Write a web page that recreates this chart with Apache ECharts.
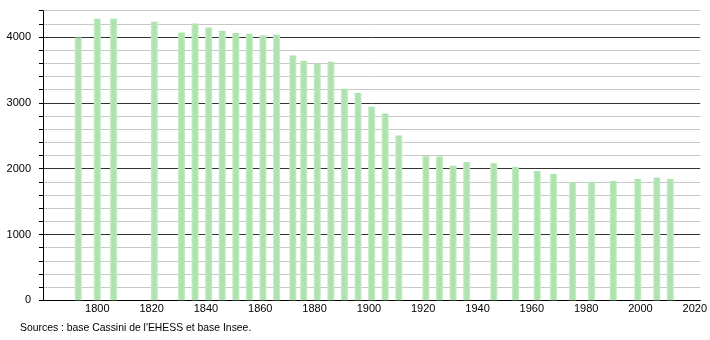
<!DOCTYPE html>
<html>
<head>
<meta charset="utf-8">
<script src="https://cdn.jsdelivr.net/npm/echarts@6/dist/echarts.min.js"></script>
<style>
html,body{margin:0;padding:0;background:#fff;}
#main{width:710px;height:340px;}
</style>
</head>
<body>
<div id="main"></div>
<script>
const years = [1793, 1800, 1806, 1821, 1831, 1836, 1841, 1846, 1851, 1856, 1861, 1866, 1872, 1876, 1881, 1886, 1891, 1896, 1901, 1906, 1911, 1921, 1926, 1931, 1936, 1946, 1954, 1962, 1968, 1975, 1982, 1990, 1999, 2006, 2011];
const population = [3994, 4278, 4276, 4233, 4070, 4207, 4146, 4096, 4063, 4050, 4024, 4035, 3720, 3640, 3599, 3624, 3214, 3153, 2940, 2838, 2503, 2190, 2184, 2043, 2103, 2083, 2027, 1966, 1921, 1794, 1794, 1814, 1845, 1865, 1845];
const yTickLabels = ['0', '1000', '2000', '3000', '4000'];
const xTickLabels = ['1800', '1820', '1840', '1860', '1880', '1900', '1920', '1940', '1960', '1980', '2000', '2020'];
const sourceText = "Sources : base Cassini de l'EHESS et base Insee.";

const chart = echarts.init(document.getElementById('main'), null, {renderer: 'canvas'});
const font = 'Liberation Sans, Arial, sans-serif';
chart.setOption({
  animation: false,
  backgroundColor: '#ffffff',
  grid: {left: 43, right: 9, top: 10.7, bottom: 39.7, containLabel: false},
  graphic: [{
    type: 'text', left: 20, top: 323,
    style: {text: sourceText, font: '10.4px ' + font, fill: '#000'}
  }],
  xAxis: {
    type: 'value', min: 1780, max: 2022, interval: 20,
    axisLine: {show: true, lineStyle: {color: '#000', width: 1}},
    axisTick: {show: false},
    splitLine: {show: false},
    axisLabel: {
      color: '#000', fontFamily: font, fontSize: 11, margin: 3,
      formatter: v => xTickLabels.includes(String(v)) ? String(v) : ''
    }
  },
  yAxis: {
    type: 'value', min: 0, max: 4400, interval: 200,
    axisLine: {show: true, lineStyle: {color: '#000', width: 1}},
    axisTick: {show: true, length: 4, lineStyle: {color: '#000'}},
    splitLine: {show: true, lineStyle: {color: ['#333333', '#c8c8c8', '#c8c8c8', '#c8c8c8', '#c8c8c8'], width: 1}},
    axisLabel: {
      color: '#000', fontFamily: font, fontSize: 11, margin: 12,
      formatter: v => yTickLabels.includes(String(v)) ? String(v) : ''
    }
  },
  series: [{
    type: 'bar',
    barWidth: 7,
    data: years.map((y, i) => [y, population[i]]),
    itemStyle: {
      color: new echarts.graphic.LinearGradient(0, 0, 1, 0, [
        {offset: 0, color: '#c6ecc6'},
        {offset: 0.3, color: '#aee2ae'},
        {offset: 0.7, color: '#aee2ae'},
        {offset: 1, color: '#c6ecc6'}
      ])
    }
  }]
});
</script>
</body>
</html>
